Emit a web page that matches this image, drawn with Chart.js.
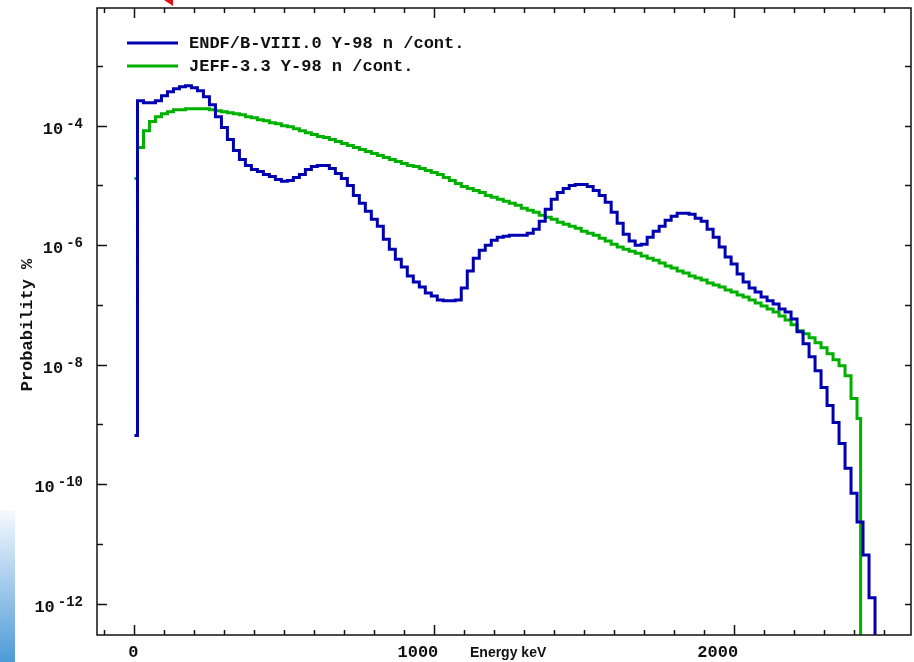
<!DOCTYPE html>
<html>
<head>
<meta charset="utf-8">
<title>Y-98 n /cont.</title>
<script src="https://cdn.jsdelivr.net/npm/chart.js@4.4.0/dist/chart.umd.min.js"></script>
<style>
    html, body { margin: 0; padding: 0; background: #fff; }
    #wrap { position: relative; width: 914px; height: 662px; }
    #edge { position: absolute; left: 0; top: 510px; width: 15px; height: 152px; background: linear-gradient(#f6fafe, #4e9ad8); }
    #mark { position: absolute; left: 164px; top: 0; width: 9px; height: 6px; background: #e41010; clip-path: polygon(0 0, 100% 0, 100% 100%); }
</style>
</head>
<body>
<div id="wrap">
    <canvas id="spectrumChart"></canvas>
    <div id="edge"></div>
    <div id="mark"></div>
</div>
<script>
// Bin start energies (keV), 20 keV wide
const binStart = [
    10, 30, 50, 70, 90, 110, 130, 150, 170, 190, 210, 230, 250, 270, 290, 310, 330, 350, 370, 390,
    410, 430, 450, 470, 490, 510, 530, 550, 570, 590, 610, 630, 650, 670, 690, 710, 730, 750, 770, 790,
    810, 830, 850, 870, 890, 910, 930, 950, 970, 990, 1010, 1030, 1050, 1070, 1090, 1110, 1130, 1150, 1170, 1190,
    1210, 1230, 1250, 1270, 1290, 1310, 1330, 1350, 1370, 1390, 1410, 1430, 1450, 1470, 1490, 1510, 1530, 1550, 1570, 1590,
    1610, 1630, 1650, 1670, 1690, 1710, 1730, 1750, 1770, 1790, 1810, 1830, 1850, 1870, 1890, 1910, 1930, 1950, 1970, 1990,
    2010, 2030, 2050, 2070, 2090, 2110, 2130, 2150, 2170, 2190, 2210, 2230, 2250, 2270, 2290, 2310, 2330, 2350, 2370, 2390,
    2410, 2430, 2450
];

// ENDF/B-VIII.0 Y-98 n /cont. (probability %)
const endfFirst = 6.56e-10;
const endfValues = [
    2.61e-4, 2.42e-4, 2.42e-4, 2.61e-4, 3.16e-4, 3.69e-4, 4.14e-4, 4.47e-4, 4.64e-4, 4.30e-4,
    3.83e-4, 3.04e-4, 2.24e-4, 1.41e-4, 9.28e-5, 5.84e-5, 3.83e-5, 2.71e-5, 2.15e-5, 1.85e-5,
    1.71e-5, 1.52e-5, 1.41e-5, 1.26e-5, 1.17e-5, 1.21e-5, 1.36e-5, 1.52e-5, 1.85e-5, 2.07e-5,
    2.15e-5, 2.15e-5, 1.92e-5, 1.58e-5, 1.31e-5, 1.00e-5, 6.81e-6, 5.01e-6, 3.69e-6, 2.71e-6,
    2.07e-6, 1.26e-6, 8.58e-7, 5.84e-7, 4.30e-7, 3.04e-7, 2.42e-7, 2.00e-7, 1.58e-7, 1.41e-7,
    1.21e-7, 1.17e-7, 1.17e-7, 1.21e-7, 1.92e-7, 3.69e-7, 6.07e-7, 8.25e-7, 1.00e-6, 1.21e-6,
    1.36e-6, 1.41e-6, 1.47e-6, 1.47e-6, 1.47e-6, 1.58e-6, 1.85e-6, 2.51e-6, 3.98e-6, 5.84e-6,
    7.64e-6, 8.91e-6, 1.00e-5, 1.04e-5, 1.04e-5, 9.62e-6, 8.25e-6, 6.81e-6, 5.21e-6, 3.55e-6,
    2.33e-6, 1.52e-6, 1.17e-6, 1.00e-6, 1.04e-6, 1.36e-6, 1.71e-6, 2.07e-6, 2.61e-6, 3.04e-6,
    3.41e-6, 3.41e-6, 3.29e-6, 2.82e-6, 2.51e-6, 1.85e-6, 1.36e-6, 9.28e-7, 6.31e-7, 4.82e-7,
    3.29e-7, 2.42e-7, 1.92e-7, 1.65e-7, 1.36e-7, 1.17e-7, 1.04e-7, 8.58e-8, 7.64e-8, 5.84e-8,
    3.55e-8, 2.24e-8, 1.36e-8, 7.94e-9, 4.14e-9, 2.07e-9, 1.08e-9, 4.82e-10, 1.85e-10, 7.08e-11,
    2.33e-11, 6.56e-12, 1.26e-12
];
const endfCutoff = 2470;

// JEFF-3.3 Y-98 n /cont. (probability %)
const jeffFirst = 1.31e-5;
const jeffValues = [
    4.30e-5, 8.25e-5, 1.17e-4, 1.41e-4, 1.58e-4, 1.71e-4, 1.85e-4, 1.85e-4, 1.92e-4, 1.92e-4,
    1.92e-4, 1.92e-4, 1.85e-4, 1.78e-4, 1.71e-4, 1.65e-4, 1.58e-4, 1.52e-4, 1.41e-4, 1.36e-4,
    1.26e-4, 1.21e-4, 1.12e-4, 1.08e-4, 1.00e-4, 9.62e-5, 8.91e-5, 8.25e-5, 7.64e-5, 7.08e-5,
    6.56e-5, 6.31e-5, 5.84e-5, 5.41e-5, 5.01e-5, 4.64e-5, 4.30e-5, 3.98e-5, 3.69e-5, 3.41e-5,
    3.16e-5, 2.93e-5, 2.71e-5, 2.51e-5, 2.33e-5, 2.15e-5, 2.07e-5, 1.92e-5, 1.78e-5, 1.65e-5,
    1.52e-5, 1.36e-5, 1.21e-5, 1.08e-5, 9.62e-6, 8.91e-6, 8.25e-6, 7.64e-6, 6.81e-6, 6.31e-6,
    5.84e-6, 5.41e-6, 5.01e-6, 4.64e-6, 4.14e-6, 3.83e-6, 3.55e-6, 3.16e-6, 2.93e-6, 2.71e-6,
    2.42e-6, 2.24e-6, 2.07e-6, 1.92e-6, 1.71e-6, 1.58e-6, 1.47e-6, 1.31e-6, 1.17e-6, 1.04e-6,
    9.28e-7, 8.58e-7, 7.94e-7, 7.36e-7, 6.56e-7, 6.07e-7, 5.62e-7, 5.01e-7, 4.47e-7, 4.14e-7,
    3.69e-7, 3.41e-7, 3.04e-7, 2.82e-7, 2.61e-7, 2.33e-7, 2.15e-7, 2.00e-7, 1.78e-7, 1.65e-7,
    1.47e-7, 1.36e-7, 1.21e-7, 1.08e-7, 9.62e-8, 8.58e-8, 7.64e-8, 6.56e-8, 5.62e-8, 4.64e-8,
    3.69e-8, 3.29e-8, 2.82e-8, 2.33e-8, 1.92e-8, 1.52e-8, 1.21e-8, 9.62e-9, 6.56e-9, 2.71e-9,
    1.26e-9
];
const jeffCutoff = 2422;

// Axis ticks
const xLabelTicks = [0, 1000, 2000];
const yLabelExponents = [-4, -6, -8, -10, -12];
const yDecadeExponents = [-3, -4, -5, -6, -7, -8, -9, -10, -11, -12];

document.addEventListener("DOMContentLoaded", () => {
    const ENDF_COLOR = '#0000b0';
    const JEFF_COLOR = '#00b000';
    const monoFont = (size) => `bold ${size}px "Liberation Mono", "DejaVu Sans Mono", monospace`;

    // histogram: each point holds its value up to the next bin, last point drops off the axis
    const toSteps = (firstValue, values, cutoff) => {
        const pts = [{ x: 0, y: firstValue }];
        values.forEach((v, i) => pts.push({ x: binStart[i], y: v }));
        pts.push({ x: cutoff, y: 1e-16 });
        return pts;
    };

    // === Frame, inward ticks, labels, legend ===
    const framePlugin = {
        id: 'frame',
        afterDraw(chart) {
            const { ctx, chartArea: a, scales: { x, y } } = chart;
            const seg = (x1, y1, x2, y2) => {
                ctx.beginPath();
                ctx.moveTo(x1, y1);
                ctx.lineTo(x2, y2);
                ctx.stroke();
            };
            ctx.save();
            ctx.strokeStyle = '#111';
            ctx.fillStyle = '#111';

            // x ticks every 100 keV, top and bottom
            ctx.lineWidth = 1.5;
            for (let e = -100; e <= 2500; e += 100) {
                const px = Math.round(x.getPixelForValue(e)) + 0.5;
                const len = xLabelTicks.includes(e) ? 10 : 5;
                seg(px, a.bottom, px, a.bottom - len);
                seg(px, a.top, px, a.top + len);
            }
            // y ticks every decade, left and right
            yDecadeExponents.forEach(p => {
                const py = Math.round(y.getPixelForValue(Math.pow(10, p))) + 0.5;
                const len = yLabelExponents.includes(p) ? 10 : 6;
                seg(a.left, py, a.left + len, py);
                seg(a.right, py, a.right - 6, py);
            });

            ctx.lineWidth = 1.5;
            ctx.strokeRect(a.left, a.top, a.right - a.left, a.bottom - a.top);

            // x tick labels
            ctx.font = monoFont(17);
            ctx.textAlign = 'right';
            ctx.textBaseline = 'alphabetic';
            xLabelTicks.forEach(e => {
                ctx.fillText(String(e), x.getPixelForValue(e) + 4, a.bottom + 22);
            });

            // y tick labels as powers of ten
            yLabelExponents.forEach(p => {
                const py = y.getPixelForValue(Math.pow(10, p));
                const right = a.left - 14;
                ctx.textAlign = 'left';
                ctx.font = monoFont(14);
                const expText = String(p);
                const wExp = ctx.measureText(expText).width;
                ctx.font = monoFont(17);
                const wBase = ctx.measureText('10').width;
                const left = right - wExp - 3 - wBase;
                ctx.fillText('10', left, py + 8);
                ctx.font = monoFont(14);
                ctx.fillText(expText, left + wBase + 3, py + 2);
            });

            // axis titles
            ctx.font = 'bold 14px "Liberation Sans", Arial, sans-serif';
            ctx.textAlign = 'left';
            ctx.fillText('Energy keV', 470, a.bottom + 22);

            ctx.save();
            ctx.translate(32, 325);
            ctx.rotate(-Math.PI / 2);
            ctx.textAlign = 'center';
            ctx.font = monoFont(17);
            ctx.fillText('Probability %', 0, 0);
            ctx.restore();

            // legend inside the plot
            ctx.textAlign = 'left';
            ctx.textBaseline = 'middle';
            ctx.font = monoFont(17);
            chart.data.datasets.forEach((ds, i) => {
                const ly = a.top + 35 + i * 23;
                ctx.strokeStyle = ds.borderColor;
                ctx.lineWidth = 3;
                seg(a.left + 30, ly, a.left + 81, ly);
                ctx.fillStyle = '#111';
                ctx.fillText(ds.label, a.left + 92, ly + 1);
            });
            ctx.restore();
        }
    };

    const spectrumCtx = document.getElementById('spectrumChart');
    new Chart(spectrumCtx, {
        type: 'line',
        data: {
            datasets: [
                {
                    label: 'ENDF/B-VIII.0 Y-98 n /cont.',
                    data: toSteps(endfFirst, endfValues, endfCutoff),
                    borderColor: ENDF_COLOR,
                    borderWidth: 3,
                    stepped: true,
                    pointRadius: 0,
                    fill: false
                },
                {
                    label: 'JEFF-3.3 Y-98 n /cont.',
                    data: toSteps(jeffFirst, jeffValues, jeffCutoff),
                    borderColor: JEFF_COLOR,
                    borderWidth: 3,
                    stepped: true,
                    pointRadius: 0,
                    fill: false
                }
            ]
        },
        options: {
            responsive: true,
            maintainAspectRatio: false,
            animation: false,
            layout: {
                padding: { left: 97, top: 8, right: 3, bottom: 27 }
            },
            plugins: {
                legend: { display: false },
                tooltip: { enabled: false }
            },
            scales: {
                x: { type: 'linear', min: -125, max: 2590, display: false },
                y: { type: 'logarithmic', min: 3.3e-13, max: 9.3e-3, display: false }
            }
        },
        plugins: [framePlugin]
    });
});
</script>
</body>
</html>
